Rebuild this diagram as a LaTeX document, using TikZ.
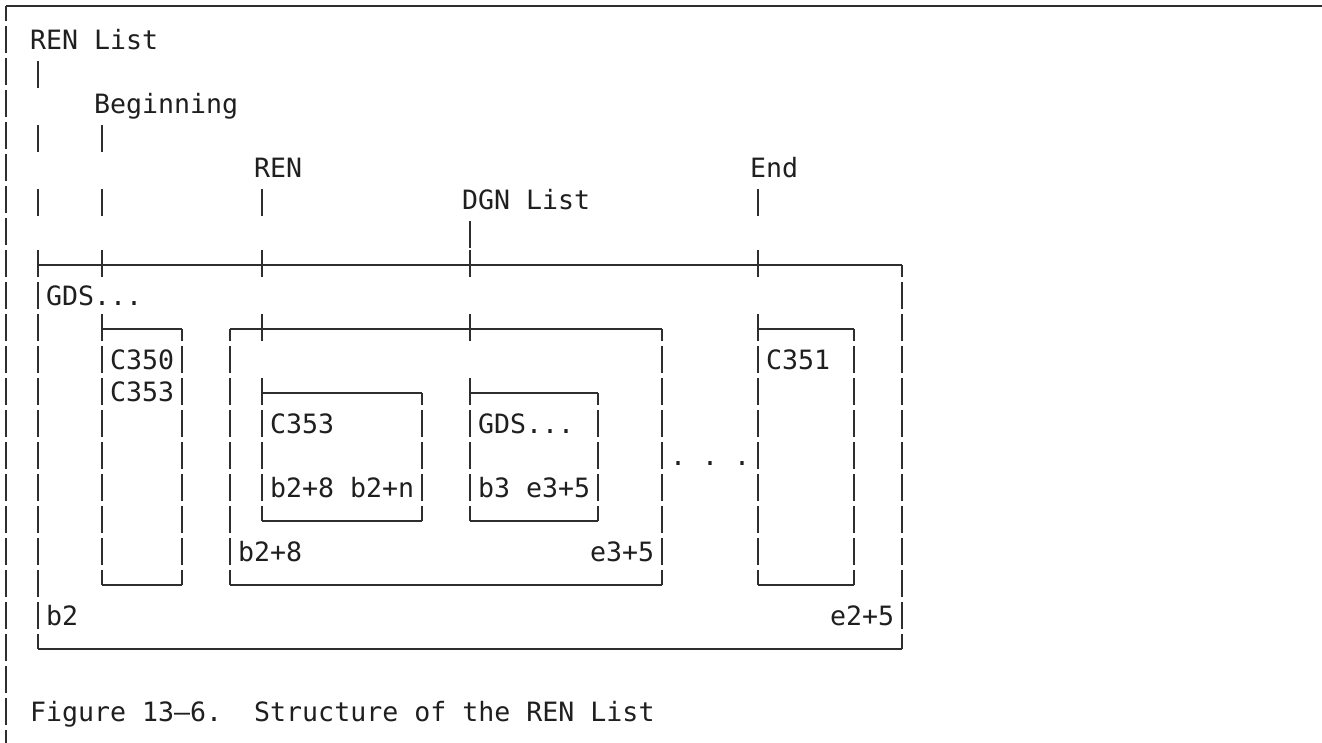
\documentclass[tikz,border=0pt]{standalone}
\usepackage{fontspec}
\newfontfamily\mono{DejaVu Sans Mono}
\frenchspacing
% grid: column c -> x = 6+16c ; row r -> line y = 9+32r
\newcommand\CX[1]{6+16*(#1)}
\newcommand\RY[1]{9+32*(#1)}
\newcommand\hln[3]{\draw[ln] ({\CX{#2}},{\RY{#1}}) -- ({\CX{#3}},{\RY{#1}});}
\newcommand\vbar[3]{\foreach \rr in {#2,...,#3}{\draw[ln] ({\CX{#1}},{\RY{\rr}-15}) -- ({\CX{#1}},{\RY{\rr}+12});}}
\newcommand\pbar[2]{\draw[ln] ({\CX{#1}},{\RY{#2}-12}) -- ({\CX{#1}},{\RY{#2}+15});}
\newcommand\cdn[2]{\draw[ln] ({\CX{#1}},{\RY{#2}}) -- ({\CX{#1}},{\RY{#2}+12});}
\newcommand\crup[2]{\draw[ln] ({\CX{#1}},{\RY{#2}-15}) -- ({\CX{#1}},{\RY{#2}});}
\newcommand\crx[2]{\draw[ln] ({\CX{#1}},{\RY{#2}-15}) -- ({\CX{#1}},{\RY{#2}+12});}
\newcommand\tx[4]{\node[txt] (#1) at ({\CX{#3}-8},{\RY{#2}+8}) {#4};}
\begin{document}
\begin{tikzpicture}[x=1pt,y=-1pt,
  ln/.style={line width=1.5pt,draw=black!82},
  txt/.style={anchor=base west,inner sep=0pt,outer sep=0pt,
    font=\mono\fontsize{26.6pt}{32pt}\selectfont,text=black!88}]
\useasboundingbox (0,0) rectangle (1322,742);
\fill[white] (0,0) rectangle (1322,742);
% ---- outer frame
\coordinate (ftl) at ({\CX{0}},6);
\coordinate (ftr) at (1322,6);
\draw[ln] (ftl) -- (ftr);
\draw[ln] (ftl) -- ({\CX{0}},21);
\vbar{0}{1}{23}
% ---- labels and pointers
\tx{renlist}{1}{2}{REN List}
\tx{beg}{3}{6}{Beginning}
\tx{ren}{5}{16}{REN}
\tx{end}{5}{47}{End}
\tx{dgn}{6}{29}{DGN List}
\pbar{2}{2}\pbar{2}{4}\pbar{2}{6}
\pbar{6}{4}\pbar{6}{6}
\pbar{16}{6}
\pbar{47}{6}
\pbar{29}{7}
% ---- big box (cols 2-56, rows 8-20)
\hln{8}{2}{56}\hln{20}{2}{56}
\crx{2}{8}\crx{6}{8}\crx{16}{8}\crx{29}{8}\crx{47}{8}
\cdn{56}{8}
\vbar{2}{9}{19}\vbar{56}{9}{19}
\crup{2}{20}\crup{56}{20}
\tx{gds}{9}{3}{GDS...}
\tx{b2}{19}{3}{b2}
\tx{e2}{19}{52}{e2+5}
% ---- C350 box (cols 6-11, rows 10-18)
\hln{10}{6}{11}\hln{18}{6}{11}
\crx{6}{10}\cdn{11}{10}
\vbar{6}{11}{17}\vbar{11}{11}{17}
\crup{6}{18}\crup{11}{18}
\tx{c350}{11}{7}{C350}
\tx{c353a}{12}{7}{C353}
% ---- REN box (cols 14-41, rows 10-18)
\hln{10}{14}{41}\hln{18}{14}{41}
\cdn{14}{10}\crx{16}{10}\crx{29}{10}\cdn{41}{10}
\vbar{14}{11}{17}\vbar{41}{11}{17}
\crup{14}{18}\crup{41}{18}
\tx{rb}{17}{15}{b2+8}
\tx{re}{17}{37}{e3+5}
% ---- inner box 1 (cols 16-26, rows 12-16)
\hln{12}{16}{26}\hln{16}{16}{26}
\crx{16}{12}\cdn{26}{12}
\vbar{16}{13}{15}\vbar{26}{13}{15}
\crup{16}{16}\crup{26}{16}
\tx{c353b}{13}{17}{C353}
\tx{bb}{15}{17}{b2+8 b2+n}
% ---- inner box 2 (cols 29-37, rows 12-16)
\hln{12}{29}{37}\hln{16}{29}{37}
\crx{29}{12}\cdn{37}{12}
\vbar{29}{13}{15}\vbar{37}{13}{15}
\crup{29}{16}\crup{37}{16}
\tx{gds2}{13}{30}{GDS...}
\tx{b3}{15}{30}{b3 e3+5}
% ---- dots
\tx{dots}{14}{42}{. . .}
% ---- C351 box (cols 47-53, rows 10-18)
\hln{10}{47}{53}\hln{18}{47}{53}
\crx{47}{10}\cdn{53}{10}
\vbar{47}{11}{17}\vbar{53}{11}{17}
\crup{47}{18}\crup{53}{18}
\tx{c351}{11}{48}{C351}
% ---- caption
\tx{cap}{22}{2}{Figure 13–6.~~Structure of the REN List}
\end{tikzpicture}
\end{document}
